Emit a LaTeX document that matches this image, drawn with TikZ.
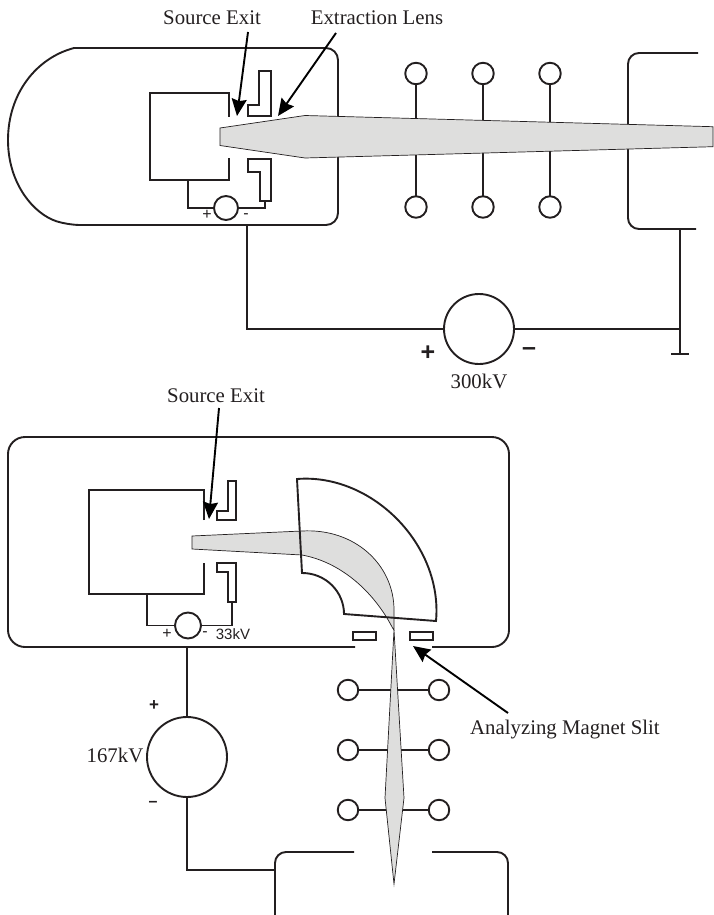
\documentclass[tikz,border=0pt]{standalone}
\usepackage{fontspec}
\setmainfont{Liberation Serif}
\setsansfont{Liberation Sans}
\usetikzlibrary{arrows.meta}
\definecolor{beamgrey}{HTML}{DEDEDD}
\definecolor{ink}{HTML}{231F20}
\tikzset{
  wire/.style={draw=ink,line width=1.9pt,line join=miter},
  beam/.style={draw=ink,fill=beamgrey,line width=0.7pt},
  ring/.style={circle,draw=ink,line width=1.9pt,inner sep=0pt,outer sep=0pt},
  callout/.style={draw=black,line width=1.9pt,-{Stealth[length=17pt,width=15pt,inset=2pt]}},
  serif/.style={inner sep=0pt,font=\fontsize{20.8}{24}\selectfont,text=ink},
  tinysign/.style={inner sep=0pt,font=\sffamily\fontsize{16}{18}\selectfont,text=ink},
  bigsign/.style={inner sep=0pt,font=\sffamily\bfseries\fontsize{25}{27}\selectfont,text=ink},
}
\begin{document}
\begin{tikzpicture}[x=1pt,y=-1pt]
\useasboundingbox (0,0) rectangle (713,915);
% ---------- top diagram ----------
\draw[wire] (74,48) [rounded corners=12pt] -- (338,48) -- (338,225) -- (68,225) [sharp corners]
  .. controls (34,214) and (8,184) .. (8,140)
  .. controls (8,94) and (36,58) .. (74,48) -- cycle;
\draw[wire] (229,117) -- (229,93) -- (150,93) -- (150,180) -- (229,180) -- (229,158);
\draw[wire] (259,71) -- (271,71) -- (271,116) -- (248,116) -- (248,105) -- (259,105) -- cycle;
\draw[wire] (248,159) -- (271,159) -- (271,201) -- (260,201) -- (260,172) -- (248,172) -- cycle;
\node[ring,minimum size=24pt] (vA) at (226,208) {};
\coordinate (jA) at (188,180);
\coordinate (eA) at (265,201);
\draw[wire] (jA) |- (vA);
\draw[wire] (vA) -| (eA);
\node[tinysign] (pA) at (207,215) {+};
\node[tinysign] (mA) at (246,216) {-};
% rings
\foreach \n/\x in {1/416,2/483,3/550}{
  \node[ring,minimum size=21.5pt] (t\n) at (\x,73.5) {};
  \node[ring,minimum size=21.5pt] (b\n) at (\x,207) {};
  \draw[wire] (t\n) -- (b\n);
}
% right box
\draw[wire,rounded corners=11pt] (698,53) -- (628,53) -- (628,229) -- (696,229);
% beam
\draw[beam] (220,128) -- (305,115.5) -- (713,126.7) -- (713,146.7) -- (305,158) -- (220,145.5) -- cycle;
% supply
\node[ring,minimum size=70pt] (vB) at (479,329) {};
\coordinate (jB) at (247,225);
\coordinate (jC) at (680,229);
\coordinate (gnd) at (680,354);
\coordinate (gl) at (671,354);
\coordinate (gr) at (689,354);
\draw[wire] (jB) |- (vB);
\draw[wire] (jC) -- (gnd);
\draw[wire] (vB) -- (vB-|jC);
\draw[wire] (gl) -- (gr);
\node[bigsign] (pB) at (428,353) {+};
\node[bigsign] (mB) at (529,352) {--};
\node[serif] (kvB) at (479,381) {300kV};
% labels
\node[serif] (lab1) at (212,18) {Source Exit};
\node[serif] (lab2) at (377,18) {Extraction Lens};
\coordinate (s1) at (248,32);
\coordinate (h1) at (237,116);
\coordinate (s2) at (336,33);
\coordinate (h2) at (278,116);
\draw[callout] (s1) -- (h1);
\draw[callout] (s2) -- (h2);
% ---------- bottom diagram ----------
\draw[wire,rounded corners=17pt] (355,647) -- (8,647) -- (8,437) -- (509,437) -- (509,647) -- (432,647);
\draw[wire] (204,520) -- (204,490) -- (89,490) -- (89,594) -- (204,594) -- (204,563);
\draw[wire] (228,481) -- (236,481) -- (236,520) -- (217,520) -- (217,511) -- (228,511) -- cycle;
\draw[wire] (217,563) -- (236,563) -- (236,602) -- (228,602) -- (228,572) -- (217,572) -- cycle;
\node[ring,minimum size=26pt] (vC) at (188,625.5) {};
\coordinate (jD) at (147,594);
\coordinate (eC) at (232,602);
\draw[wire] (jD) |- (vC);
\draw[wire] (vC) -| (eC);
\node[tinysign] (pC) at (167,634) {+};
\node[tinysign] (mC) at (205,634) {-};
\node[inner sep=0pt,font=\sffamily\fontsize{15}{17}\selectfont,text=ink] (kvC) at (233,634) {33kV};
% rings
\foreach \n/\y in {1/690,2/750,3/810}{
  \node[ring,minimum size=20.5pt] (l\n) at (348,\y) {};
  \node[ring,minimum size=20.5pt] (r\n) at (439,\y) {};
  \draw[wire] (l\n) -- (r\n);
}
% beams
\draw[beam] (192,536) -- (302,531) .. controls (355,528) and (394,565) .. (394,610) -- (394,630)
  .. controls (393,629) and (392,627) .. (391,625)
  .. controls (372,590) and (340,562) .. (302,555) -- (192,549) -- cycle;
\draw[beam] (394,630) -- (385,798) -- (394,884) -- (404,798) -- cycle;
% magnet
\draw[wire] (297,479) .. controls (372,473) and (443,545) .. (436,621) -- (344,614)
  .. controls (344,592) and (326,573) .. (302,573) -- cycle;
% slits
\draw[wire] (353,632) rectangle (376,640);
\draw[wire] (410,632) rectangle (433,640);
% supply
\node[ring,minimum size=80pt] (vD) at (187,757) {};
\coordinate (jE) at (187,647);
\coordinate (jF) at (275,870);
\draw[wire] (jE) -- (vD);
\draw[wire] (vD) |- (jF);
\draw[wire,rounded corners=11pt] (354,852) -- (275,852) -- (275,915);
\draw[wire,rounded corners=11pt] (432,852) -- (508,852) -- (508,915);
\node[serif] (kvD) at (115,755) {167kV};
\node[tinysign,font=\sffamily\bfseries\fontsize{17}{18}\selectfont] (pD) at (154,706) {+};
\node[tinysign,font=\sffamily\bfseries\fontsize{16}{18}\selectfont] (mD) at (153,804) {--};
% labels
\node[serif] (lab3) at (216,396) {Source Exit};
\node[serif,anchor=west] (lab4) at (470,730) {Analyzing Magnet Slit};
\coordinate (s3) at (219,408);
\coordinate (h3) at (209,519);
\coordinate (s4) at (508,713);
\coordinate (h4) at (413,646);
\draw[callout] (s3) -- (h3);
\draw[callout] (s4) -- (h4);
\end{tikzpicture}
\end{document}
